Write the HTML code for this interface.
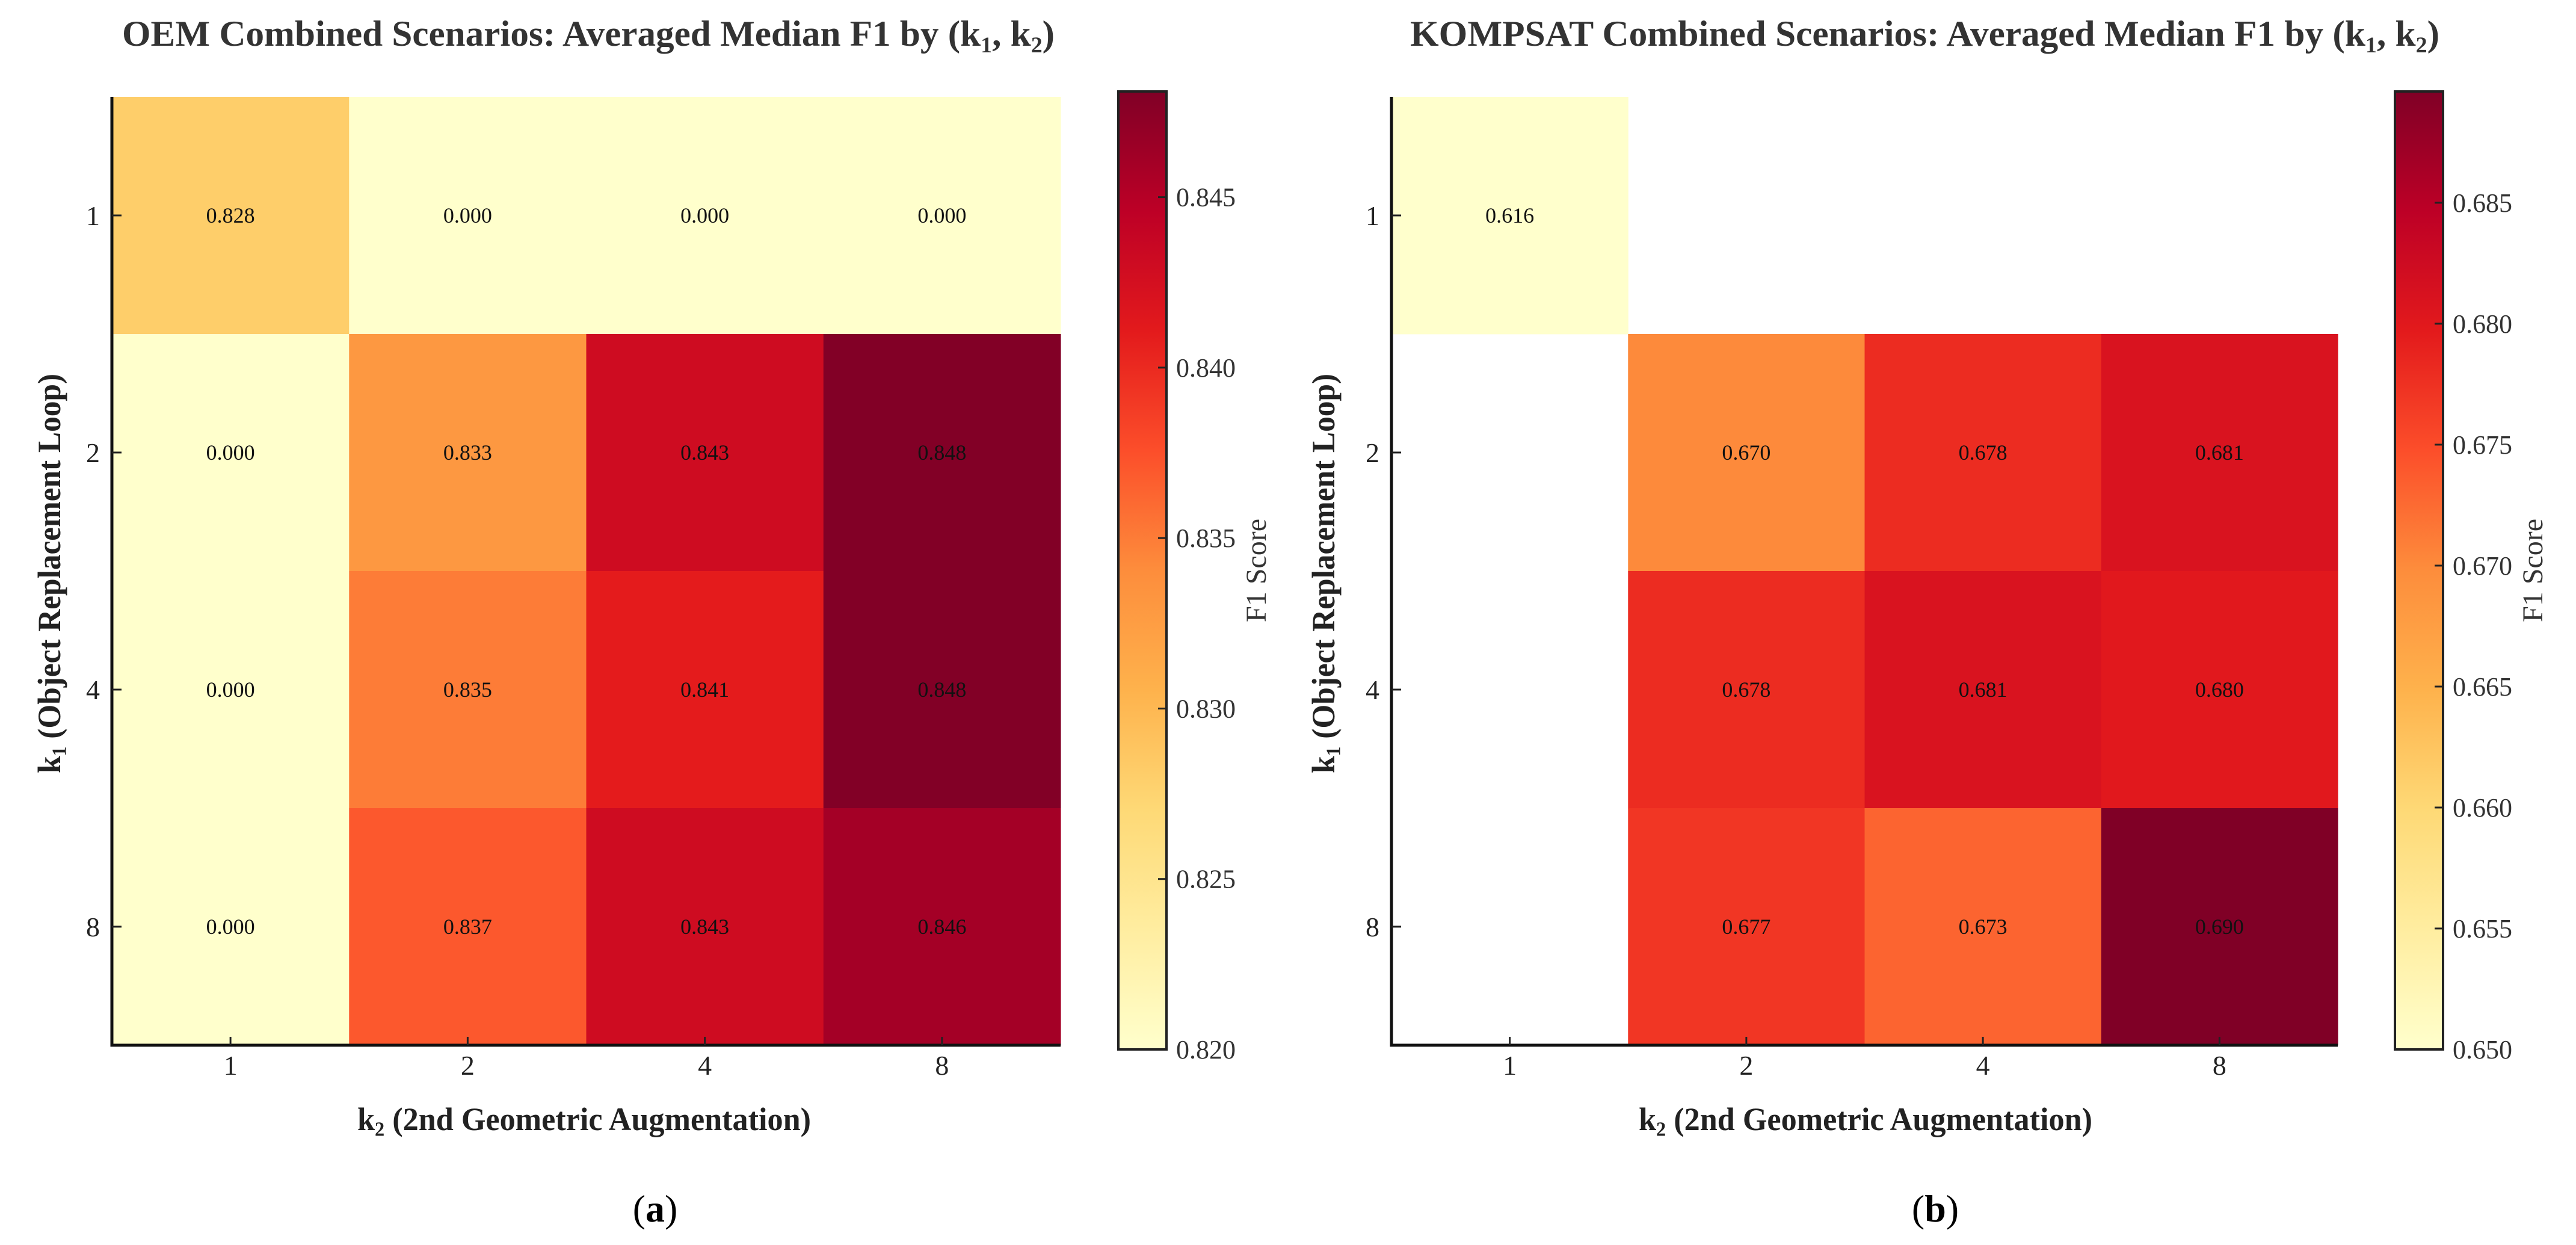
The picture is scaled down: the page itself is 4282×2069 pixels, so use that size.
<!DOCTYPE html>
<html><head><meta charset="utf-8">
<style>
html,body{margin:0;padding:0;background:#fff;}
svg{display:block;font-family:"Liberation Serif",serif;}
</style></head>
<body>
<svg id="fig" width="4282" height="2069" viewBox="0 0 4282 2069" xmlns="http://www.w3.org/2000/svg">
<defs>
<linearGradient id="ylorrd" x1="0" y1="1" x2="0" y2="0">
<stop offset="0" stop-color="rgb(255,255,204)"/>
<stop offset="0.125" stop-color="rgb(255,237,160)"/>
<stop offset="0.25" stop-color="rgb(254,217,118)"/>
<stop offset="0.375" stop-color="rgb(254,178,76)"/>
<stop offset="0.5" stop-color="rgb(253,141,60)"/>
<stop offset="0.625" stop-color="rgb(252,78,42)"/>
<stop offset="0.75" stop-color="rgb(227,26,28)"/>
<stop offset="0.875" stop-color="rgb(189,0,38)"/>
<stop offset="1" stop-color="rgb(128,0,38)"/>
</linearGradient>
</defs>
</svg>
<script>
// ---- data ----
const k2Labels = ["1","2","4","8"];
const k1Labels = ["1","2","4","8"];
const oemValues = [
  [0.828, 0.000, 0.000, 0.000],
  [0.000, 0.833, 0.843, 0.848],
  [0.000, 0.835, 0.841, 0.848],
  [0.000, 0.837, 0.843, 0.846]
];
const kompsatValues = [
  [0.616, null, null, null],
  [null, 0.670, 0.678, 0.681],
  [null, 0.678, 0.681, 0.680],
  [null, 0.677, 0.673, 0.690]
];
const oemRange = [0.820, 0.8481];
const kompsatRange = [0.650, 0.6896];
const oemCbTicks = [0.820, 0.825, 0.830, 0.835, 0.840, 0.845];
const kompsatCbTicks = [0.650, 0.655, 0.660, 0.665, 0.670, 0.675, 0.680, 0.685];

const NS = "http://www.w3.org/2000/svg";
const svg = document.getElementById("fig");
const stops = [[255,255,204],[255,237,160],[254,217,118],[254,178,76],[253,141,60],[252,78,42],[227,26,28],[189,0,38],[128,0,38]];
function cmap(t){
  t = Math.max(0, Math.min(1, t));
  const p = t*(stops.length-1); const i = Math.min(Math.floor(p), stops.length-2); const f = p-i;
  const c = stops[i].map((v,j)=>Math.round(v+(stops[i+1][j]-v)*f));
  return "rgb("+c.join(",")+")";
}
function el(tag, attrs, parent){
  const e = document.createElementNS(NS, tag);
  for (const k in attrs) e.setAttribute(k, attrs[k]);
  (parent||svg).appendChild(e);
  return e;
}
function subText(parent, x, y, pre, sub, post, size, extra){
  const t = el("text", Object.assign({x:x, y:y, "font-size":size}, extra||{}), parent);
  if (pre) { const a = el("tspan", {}, t); a.textContent = pre; }
  const s = el("tspan", {"font-size": size*0.62, dy: size*0.18}, t); s.textContent = sub;
  const b = el("tspan", {dy: -size*0.18}, t); b.textContent = post;
  return t;
}

function drawPanel(cfg, values, range, cbTicks){
  const g = el("g", {});
  
  
  const L = cfg.L, R = cfg.R, T = 161, B = 1737;
  const cw = (R-L)/k2Labels.length, ch = (B-T)/k1Labels.length;
  const xc = i => L + cw*(i+0.5);
  const yc = j => T + ch*(j+0.5);
  const norm = v => (v - range[0])/(range[1]-range[0]);
  values.forEach((row, j) => row.forEach((v, i) => {
    if (v === null) return;
    const r = el("rect", {x: L+cw*i, y: T+ch*j, width: cw+0.5, height: ch+0.5, fill: cmap(norm(v))}, g);
    
    
    const t = el("text", {x: xc(i), y: yc(j)+12, "font-size": 36, "text-anchor":"middle", fill:"#111"}, g);
    
    
    t.textContent = v.toFixed(3);
  }));
  const ax = el("path", {d:`M${L} ${T} L${L} ${B} L${R} ${B}`, stroke:"#111", "stroke-width":5, fill:"none"}, g);
  
  
  k2Labels.forEach((lab, i) => {
    el("line", {x1: xc(i), x2: xc(i), y1: B, y2: B-14, stroke:"#222", "stroke-width":3}, g);
    const t = el("text", {x: xc(i), y: 1786, "font-size": 46, "text-anchor":"middle", fill:"#222"}, g);
    
    
    t.textContent = lab;
  });
  k1Labels.forEach((lab, j) => {
    el("line", {x1: L, x2: L+16, y1: yc(j), y2: yc(j), stroke:"#222", "stroke-width":3}, g);
    const t = el("text", {x: L-20, y: yc(j)+16, "font-size": 46, "text-anchor":"end", fill:"#222"}, g);
    
    
    t.textContent = lab;
  });
  const tt = subText(g, cfg.titleX, 76, cfg.titlePre + "(k", "1", ", k", 60, {"font-weight":"bold", fill:"#333"});
  const s2 = el("tspan", {"font-size": 60*0.62, dy: 60*0.18}, tt); s2.textContent = "2";
  const s3 = el("tspan", {dy: -60*0.18}, tt); s3.textContent = ")";
  tt.setAttribute("textLength", cfg.titleW);
  tt.setAttribute("lengthAdjust", "spacingAndGlyphs");
  
  
  const xl = subText(g, cfg.xlX, 1878, "k", "2", " (2nd Geometric Augmentation)", 54, {"font-weight":"bold", fill:"#222"});
  xl.setAttribute("textLength", 754);
  xl.setAttribute("lengthAdjust", "spacingAndGlyphs");
  
  
  const yg = el("g", {transform:`translate(${cfg.ylX},1285) rotate(-90)`}, g);
  const yl = subText(yg, 0, 0, "k", "1", " (Object Replacement Loop)", 54, {"font-weight":"bold", fill:"#222"});
  yl.setAttribute("textLength", 664);
  yl.setAttribute("lengthAdjust", "spacingAndGlyphs");
  
  
  const cT = 152, cB = 1744, cL = cfg.cbL, cR = cfg.cbL + 80;
  const cb = el("rect", {x:cL, y:cT, width:80, height:cB-cT, fill:"url(#ylorrd)", stroke:"#222", "stroke-width":4}, g);
  
  
  const cy = v => cB - (v-range[0])/(range[1]-range[0])*(cB-cT);
  cbTicks.forEach(v => {
    el("line", {x1:cR-14, x2:cR, y1:cy(v), y2:cy(v), stroke:"#222", "stroke-width":3}, g);
    const t = el("text", {x:cR+16, y:cy(v)+15, "font-size":44, fill:"#333"}, g);
    
    
    t.textContent = v.toFixed(3);
  });
  const cg = el("g", {transform:`translate(${cfg.cbLabX},948) rotate(-90)`}, g);
  const cl = el("text", {x:0, y:0, "font-size":48, "text-anchor":"middle", fill:"#333"}, cg);
  
  
  cl.textContent = "F1 Score";
  const pl = el("text", {x: cfg.letterX, y: 2030, "font-size": 64, "text-anchor":"middle", fill:"#000"}, g);
  
  
  const p1 = el("tspan", {}, pl); p1.textContent = "(";
  const p2 = el("tspan", {"font-weight":"bold"}, pl); p2.textContent = cfg.letter;
  const p3 = el("tspan", {}, pl); p3.textContent = ")";
}

drawPanel({name:"oem-heatmap-panel", L:186, R:1763, titlePre:"OEM Combined Scenarios: Averaged Median F1 by ", titleX:203, titleW:1550,
  xlX:594, ylX:100, cbL:1859, cbLabX:2104, letterX:1089, letter:"a"}, oemValues, oemRange, oemCbTicks);
drawPanel({name:"kompsat-heatmap-panel", L:2313, R:3886, titlePre:"KOMPSAT Combined Scenarios: Averaged Median F1 by ", titleX:2344, titleW:1711,
  xlX:2724, ylX:2218, cbL:3981, cbLabX:4226, letterX:3217, letter:"b"}, kompsatValues, kompsatRange, kompsatCbTicks);
</script>
</body></html>
